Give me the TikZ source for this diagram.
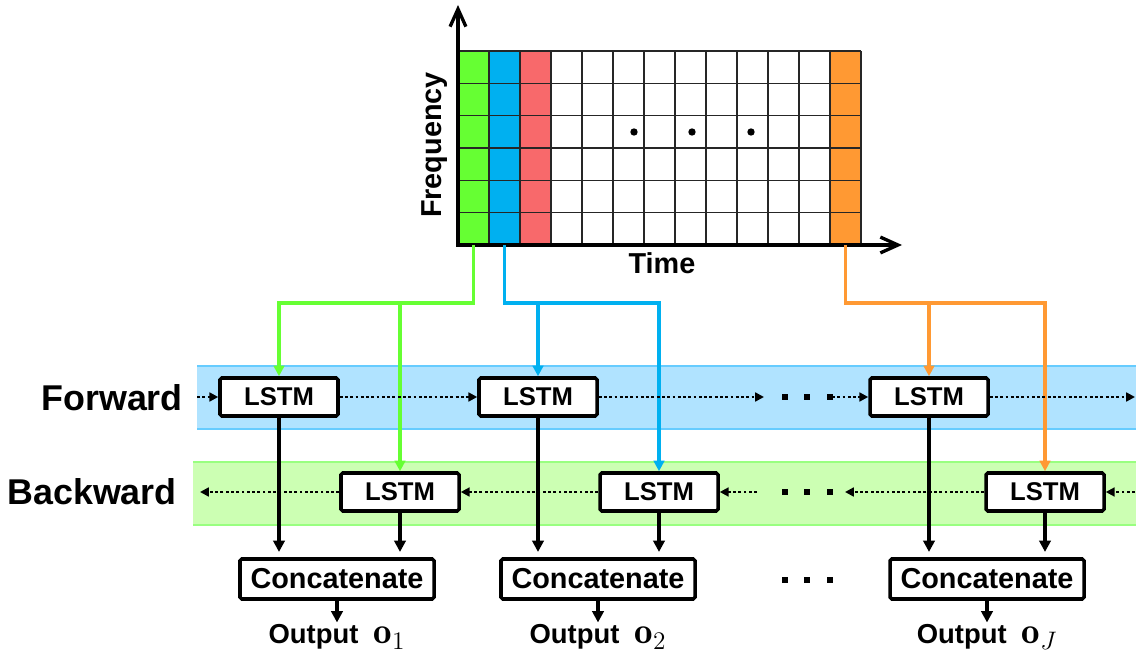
\documentclass[tikz,border=0pt]{standalone}
\usepackage{fontspec}
\usetikzlibrary{arrows.meta}
\newfontfamily\arialfont{Liberation Sans}
\definecolor{specgreen}{HTML}{66FF33}
\definecolor{specblue}{HTML}{00B0F0}
\definecolor{specred}{HTML}{F8696B}
\definecolor{specorange}{HTML}{FF9933}
\definecolor{fwfill}{HTML}{B0E3FF}
\definecolor{fwedge}{HTML}{66CCFF}
\definecolor{bwfill}{HTML}{CCFFB3}
\definecolor{bwedge}{HTML}{99FF80}
\newcommand{\outvec}[1]{{\fontsize{21}{23}\selectfont$\mathbf{o}_{#1}$}}

\begin{document}
\begin{tikzpicture}[x=0.2mm,y=-0.2mm,
 font=\arialfont\bfseries,
 cell/.style={draw=black!85,line width=0.8pt},
 axis/.style={{Straight Barb[length=10pt,width=9pt]}-{Straight Barb[length=10pt,width=9pt]},
   line width=1.9pt},
 lstm/.style={draw,fill=white,line width=2pt,rounded corners=1pt,
   minimum width=23.6mm,minimum height=7.6mm,inner sep=0pt,
   font=\arialfont\bfseries\fontsize{14.6}{16}\selectfont},
 concat/.style={lstm,minimum width=38.8mm,minimum height=8mm,
   font=\arialfont\bfseries\fontsize{16.4}{18}\selectfont},
 outlabel/.style={inner sep=1pt,font=\arialfont\bfseries\fontsize{15.6}{17}\selectfont},
 rowlabel/.style={font=\arialfont\bfseries\fontsize{20.4}{24}\selectfont},
 axlabel/.style={font=\arialfont\bfseries\fontsize{16.4}{18}\selectfont},
 % Recurrent links: heavy dots with a small solid head.
 recur/.style={-{Triangle[length=5pt,width=5pt]},line width=1.6pt,
   dash pattern=on 1.6pt off 1.4pt},
 feed/.style={-{Triangle[length=6pt,width=6pt]},line width=1.9pt},
 merge/.style={-{Triangle[length=6.5pt,width=6.5pt]},line width=1.9pt,shorten >=3pt}]
\useasboundingbox (0,0) rectangle (1136,655);

% Spectrogram; only the sampled frames are coloured.
\fill[specgreen] (458,51) rectangle (489,245);
\fill[specblue] (489,51) rectangle (520,245);
\fill[specred] (520,51) rectangle (551,245);
\fill[specorange] (830,51) rectangle (861,245);
\foreach \i in {0,...,13}
  \draw[cell] ({458+31*\i},51) -- ({458+31*\i},245);
\foreach \j in {0,...,6}
  \draw[cell] (458,{51+194/6*\j}) -- (861,{51+194/6*\j});
\foreach \x in {634,692,751}
  \fill (\x,132) circle (2.1pt);
\draw[axis] (458,5) -- (458,245) -- (902,245);
\node[axlabel,rotate=90] (freq) at (435,145) {Frequency};
\node[axlabel] (time) at (662,263) {Time};
\coordinate (col1) at (473.5,245);
\coordinate (col2) at (504.5,245);
\coordinate (colJ) at (845.5,245);

% Direction bands
\fill[fwfill] (197,366) rectangle (1136,429);
\draw[fwedge,line width=1.4pt] (197,366) -- (1136,366) (197,429) -- (1136,429);
\fill[bwfill] (193,462) rectangle (1136,525);
\draw[bwedge,line width=1.4pt] (193,462) -- (1136,462) (193,525) -- (1136,525);
\node[rowlabel,anchor=east] (fwlabel) at (189,398) {Forward};
\node[rowlabel,anchor=east] (bwlabel) at (183,492) {Backward};

% Each sampled frame feeds one forward and one backward cell.
\coordinate (gsplit) at (473.5,303);
\coordinate (bsplit) at (504.5,303);
\coordinate (osplit) at (845.5,303);
\node[lstm] (fw1) at (279,397) {LSTM};
\node[lstm] (fw2) at (538,397) {LSTM};
\node[lstm] (fwJ) at (929,397) {LSTM};
\node[lstm] (bw1) at (400,492) {LSTM};
\node[lstm] (bw2) at (659,492) {LSTM};
\node[lstm] (bwJ) at (1045,492) {LSTM};
\draw[feed,specgreen] (col1) -- (gsplit) -| (fw1.north);
\draw[feed,specgreen] (gsplit) -| (bw1.north);
\draw[feed,specblue] (col2) -- (bsplit) -| (bw2.north);
\draw[feed,specblue] (bsplit) -| (fw2.north);
\draw[feed,specorange] (colJ) -- (osplit) -| (bwJ.north);
\draw[feed,specorange] (osplit) -| (fwJ.north);

% Recurrent chains, broken by the ellipsis.
\coordinate (fwin) at (197,397);
\coordinate (fwgap) at (764,397);
\coordinate (fwresume) at (832,397);
\coordinate (fwout) at (1135,397);
\draw[recur] (fwin) -- (fw1);
\draw[recur] (fw1) -- (fw2);
\draw[recur] (fw2) -- (fwgap);
\draw[recur] (fwresume) -- (fwJ);
\draw[recur] (fwJ) -- (fwout);
\coordinate (bwin) at (1135,492);
\coordinate (bwgap) at (845,492);
\coordinate (bwresume) at (757,492);
\coordinate (bwout) at (200,492);
\draw[recur] (bwin) -- (bwJ);
\draw[recur] (bwJ) -- (bwgap);
\draw[recur] (bwresume) -- (bw2);
\draw[recur] (bw2) -- (bw1);
\draw[recur] (bw1) -- (bwout);
\foreach \y in {397,492,580}
  \foreach \x in {785,807,830}
    \fill ({\x-3.2},{\y-3.2}) rectangle ({\x+3.2},{\y+3.2});

% Outputs
\node[concat] (cc1) at (337,579) {Concatenate};
\node[concat] (cc2) at (598,579) {Concatenate};
\node[concat] (ccJ) at (987,579) {Concatenate};
\node[outlabel] (out1) at (337,637) {Output~~\outvec{1}};
\node[outlabel] (out2) at (598,637) {Output~~\outvec{2}};
\node[outlabel] (outJ) at (987,637) {Output~~\outvec{J}};
\foreach \n in {1,2,J} {
  \draw[merge] (fw\n.south) -- (fw\n.south |- cc\n.north);
  \draw[merge] (bw\n.south) -- (bw\n.south |- cc\n.north);
  \draw[merge,shorten >=0pt] (cc\n.south) -- (out\n.north);
}
\end{tikzpicture}
\end{document}
